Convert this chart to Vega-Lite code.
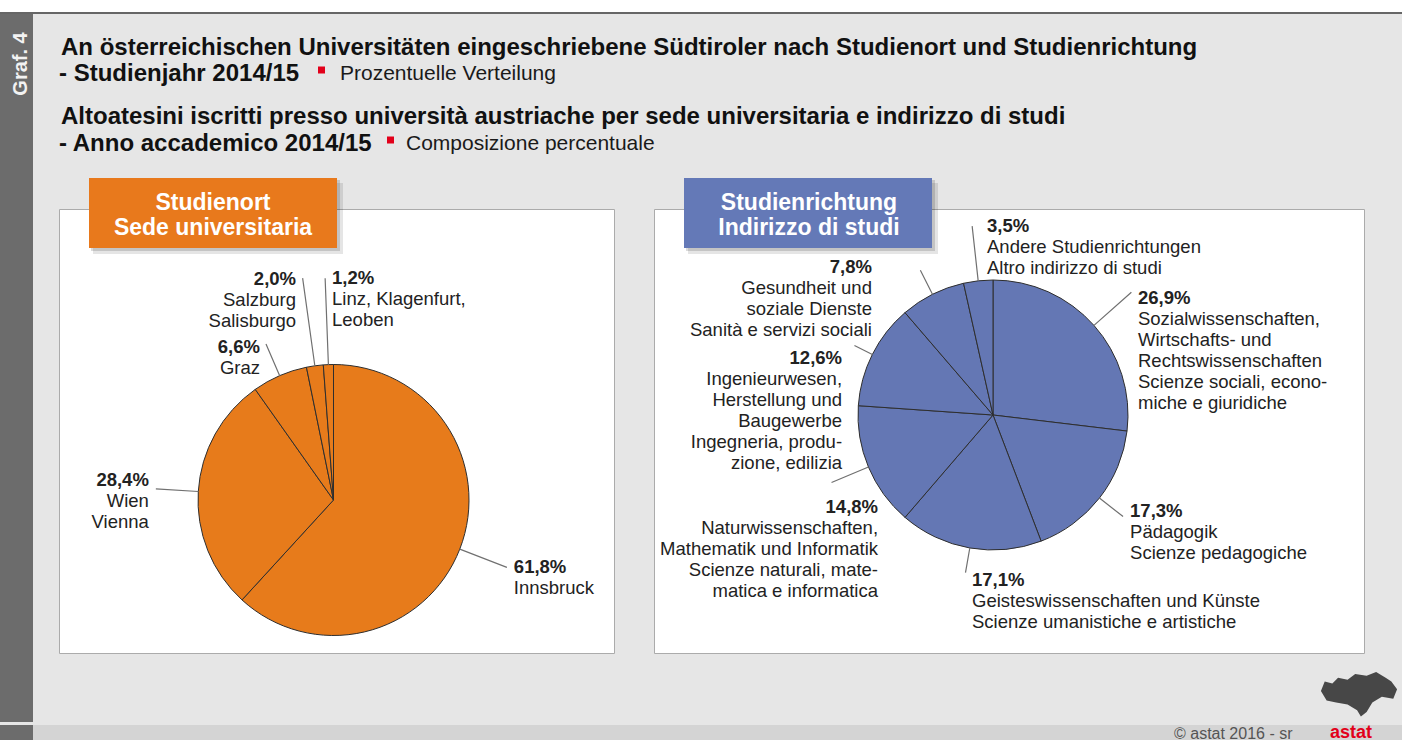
{
  "$schema": "https://vega.github.io/schema/vega-lite/v6.json",
  "background": "#e6e6e6",
  "padding": 0,
  "spacing": 0,
  "config": {
    "view": {"stroke": null},
    "font": "Liberation Sans",
    "locale": {"number": {"decimal": ",", "thousands": ".", "grouping": [3], "currency": ["", " €"]}},
    "text": {"font": "Liberation Sans", "fontSize": 18.5, "color": "#222222", "baseline": "alphabetic", "lineHeight": 21, "lineBreak": "\n"}
  },
  "vconcat": [
    {"width": 1402, "height": 12, "view": {"fill": "#ffffff", "stroke": null}, "data": {"values": [{}]}, "mark": {"type": "text", "text": "", "fontSize": 1, "x": 1, "y": 6, "baseline": "middle"}},
    {"width": 1402, "height": 2, "view": {"fill": "#666666", "stroke": null}, "data": {"values": [{}]}, "mark": {"type": "text", "text": "", "fontSize": 1, "x": 1, "y": 1, "baseline": "middle"}},
    {
      "hconcat": [
        {"width": 33, "height": 708, "view": {"fill": "#6c6c6c", "stroke": null}, "data": {"values": [{}]},
         "mark": {"type": "text", "text": "Graf. 4", "x": 20.5, "y": 50, "angle": 270, "align": "center", "baseline": "middle", "fontSize": 20, "fontWeight": "bold", "color": "#f2f2f2"}},
        {
          "vconcat": [
            {
              "width": 1344, "height": 163, "data": {"values": [{}]},
              "layer": [
                {"mark": {"type": "text", "x": 2, "y": 40.5, "align": "left", "fontSize": 24, "fontWeight": "bold", "color": "#111111", "text": "An österreichischen Universitäten eingeschriebene Südtiroler nach Studienort und Studienrichtung"}},
                {"mark": {"type": "text", "x": 0, "y": 66.5, "align": "left", "fontSize": 24, "fontWeight": "bold", "color": "#111111", "text": "- Studienjahr 2014/15"}},
                {"mark": {"type": "square", "x": 262.5, "y": 56, "size": 49, "color": "#e2001a", "opacity": 1}},
                {"mark": {"type": "text", "x": 281, "y": 65.5, "align": "left", "fontSize": 21, "color": "#1a1a1a", "text": "Prozentuelle Verteilung"}},
                {"mark": {"type": "text", "x": 2, "y": 109.5, "align": "left", "fontSize": 24, "fontWeight": "bold", "color": "#111111", "text": "Altoatesini iscritti presso università austriache per sede universitaria e indirizzo di studi"}},
                {"mark": {"type": "text", "x": 0, "y": 136.5, "align": "left", "fontSize": 24, "fontWeight": "bold", "color": "#111111", "text": "- Anno accademico 2014/15"}},
                {"mark": {"type": "square", "x": 331.5, "y": 126, "size": 49, "color": "#e2001a", "opacity": 1}},
                {"mark": {"type": "text", "x": 347, "y": 135.5, "align": "left", "fontSize": 21, "color": "#1a1a1a", "text": "Composizione percentuale"}}
              ]
            },
            {
              "hconcat": [
                {
                  "width": 555, "height": 444,
                  "view": {"fill": "#ffffff", "stroke": "#ababab", "strokeWidth": 1},
                  "layer": [
                    {"data": {"values": [{}]}, "layer": [
                      {"mark": {"type": "rect", "x": 34, "x2": 284, "y": -26, "y2": 45, "fill": "#000000", "opacity": 0.1}},
                      {"mark": {"type": "rect", "x": 32, "x2": 281, "y": -29, "y2": 42, "fill": "#000000", "opacity": 0.14}},
                      {"mark": {"type": "rect", "x": 30, "x2": 278, "y": -31, "y2": 39, "fill": "#e8791c"}},
                      {"mark": {"type": "text", "x": 154, "y": -6, "text": "Studienort\nSede universitaria", "align": "center", "baseline": "middle", "fontSize": 23, "fontWeight": "bold", "color": "#ffffff", "lineHeight": 25}}
                    ]},
                    {
                      "data": {"values": [
                        {"studienort": "Innsbruck", "name": "Innsbruck", "share": 0.618},
                        {"studienort": "Wien", "name": "Wien\nVienna", "share": 0.284},
                        {"studienort": "Graz", "name": "Graz", "share": 0.066},
                        {"studienort": "Salzburg", "name": "Salzburg\nSalisburgo", "share": 0.020},
                        {"studienort": "Linz", "name": "Linz, Klagenfurt,\nLeoben", "share": 0.012}
                      ]},
                      "transform": [
                        {"stack": "share", "groupby": [], "sort": [{"field": "share", "order": "descending"}], "as": ["s0", "s1"]},
                        {"fold": ["s0", "s1"], "as": ["edge", "ang"]},
                        {"aggregate": [{"op": "mean", "field": "ang", "as": "mid"}], "groupby": ["studienort", "name", "share", "s0", "s1"]}
                      ],
                      "encoding": {"x": {"value": 274.5}, "y": {"value": 291}},
                      "layer": [
                        {"mark": {"type": "arc", "radius": 135.5, "fill": "#e77b1b", "stroke": "#2e2e2e", "strokeWidth": 1},
                         "encoding": {"theta": {"field": "s0", "type": "quantitative", "scale": {"domain": [0, 1]}, "stack": null}, "theta2": {"field": "s1"}}},
                        {"transform": [{"filter": "datum.studienort === 'Innsbruck'"}],
                         "encoding": {"theta": {"field": "mid", "type": "quantitative", "scale": {"domain": [0, 1]}, "stack": null}},
                         "layer": [
                           {"mark": {"type": "arc", "radius": 186, "radius2": 135.5, "filled": false, "stroke": "#707070", "strokeWidth": 1.2}, "encoding": {"theta2": {"field": "mid"}}},
                           {"mark": {"type": "text", "radius": 186, "dx": 7, "dy": 6, "align": "left", "fontWeight": "bold"}, "encoding": {"text": {"field": "share", "type": "quantitative", "format": ".1%"}}},
                           {"mark": {"type": "text", "radius": 186, "dx": 7, "dy": 27, "align": "left"}, "encoding": {"text": {"field": "name", "type": "nominal"}}}
                         ]},
                        {"transform": [{"filter": "datum.studienort === 'Wien'"}],
                         "encoding": {"theta": {"field": "mid", "type": "quantitative", "scale": {"domain": [0, 1]}, "stack": null}},
                         "layer": [
                           {"mark": {"type": "arc", "radius": 178, "radius2": 135.5, "filled": false, "stroke": "#707070", "strokeWidth": 1.2}, "encoding": {"theta2": {"field": "mid"}}},
                           {"mark": {"type": "text", "radius": 178, "dx": -7, "dy": -3.3, "align": "right", "fontWeight": "bold"}, "encoding": {"text": {"field": "share", "type": "quantitative", "format": ".1%"}}},
                           {"mark": {"type": "text", "radius": 178, "dx": -7, "dy": 17.7, "align": "right"}, "encoding": {"text": {"field": "name", "type": "nominal"}}}
                         ]},
                        {"transform": [{"filter": "datum.studienort === 'Graz'"}],
                         "encoding": {"theta": {"field": "mid", "type": "quantitative", "scale": {"domain": [0, 1]}, "stack": null}},
                         "layer": [
                           {"mark": {"type": "arc", "radius": 170, "radius2": 135.5, "filled": false, "stroke": "#707070", "strokeWidth": 1.2}, "encoding": {"theta2": {"field": "mid"}}},
                           {"mark": {"type": "text", "radius": 170, "dx": -6, "dy": 9.5, "align": "right", "fontWeight": "bold"}, "encoding": {"text": {"field": "share", "type": "quantitative", "format": ".1%"}}},
                           {"mark": {"type": "text", "radius": 170, "dx": -6, "dy": 30.5, "align": "right"}, "encoding": {"text": {"field": "name", "type": "nominal"}}}
                         ]},
                        {"transform": [{"filter": "datum.studienort === 'Salzburg'"}],
                         "encoding": {"theta": {"field": "mid", "type": "quantitative", "scale": {"domain": [0, 1]}, "stack": null}},
                         "layer": [
                           {"mark": {"type": "arc", "radius": 224, "radius2": 135.5, "filled": false, "stroke": "#707070", "strokeWidth": 1.2}, "encoding": {"theta2": {"field": "mid"}}},
                           {"mark": {"type": "text", "radius": 224, "dx": -6.6, "dy": 6.4, "align": "right", "fontWeight": "bold"}, "encoding": {"text": {"field": "share", "type": "quantitative", "format": ".1%"}}},
                           {"mark": {"type": "text", "radius": 224, "dx": -6.6, "dy": 27.4, "align": "right"}, "encoding": {"text": {"field": "name", "type": "nominal"}}}
                         ]},
                        {"transform": [{"filter": "datum.studienort === 'Linz'"}],
                         "encoding": {"theta": {"field": "mid", "type": "quantitative", "scale": {"domain": [0, 1]}, "stack": null}},
                         "layer": [
                           {"mark": {"type": "arc", "radius": 222, "radius2": 135.5, "filled": false, "stroke": "#707070", "strokeWidth": 1.2}, "encoding": {"theta2": {"field": "mid"}}},
                           {"mark": {"type": "text", "radius": 222, "dx": 6.9, "dy": 6.3, "align": "left", "fontWeight": "bold"}, "encoding": {"text": {"field": "share", "type": "quantitative", "format": ".1%"}}},
                           {"mark": {"type": "text", "radius": 222, "dx": 6.9, "dy": 27.3, "align": "left"}, "encoding": {"text": {"field": "name", "type": "nominal"}}}
                         ]}
                      ]
                    }
                  ]
                },
                {
                  "width": 710, "height": 444,
                  "view": {"fill": "#ffffff", "stroke": "#ababab", "strokeWidth": 1},
                  "layer": [
                    {"data": {"values": [{}]}, "layer": [
                      {"mark": {"type": "rect", "x": 34, "x2": 284, "y": -26, "y2": 45, "fill": "#000000", "opacity": 0.1}},
                      {"mark": {"type": "rect", "x": 32, "x2": 281, "y": -29, "y2": 42, "fill": "#000000", "opacity": 0.14}},
                      {"mark": {"type": "rect", "x": 30, "x2": 278, "y": -31, "y2": 39, "fill": "#6479b7"}},
                      {"mark": {"type": "text", "x": 155, "y": -6, "text": "Studienrichtung\nIndirizzo di studi", "align": "center", "baseline": "middle", "fontSize": 23, "fontWeight": "bold", "color": "#ffffff", "lineHeight": 25}}
                    ]},
                    {
                      "data": {"values": [
                        {"richtung": "Sozial", "name": "Sozialwissenschaften,\nWirtschafts- und\nRechtswissenschaften\nScienze sociali, econo-\nmiche e giuridiche", "share": 0.269},
                        {"richtung": "Paedagogik", "name": "Pädagogik\nScienze pedagogiche", "share": 0.173},
                        {"richtung": "Geistes", "name": "Geisteswissenschaften und Künste\nScienze umanistiche e artistiche", "share": 0.171},
                        {"richtung": "Natur", "name": "Naturwissenschaften,\nMathematik und Informatik\nScienze naturali, mate-\nmatica e informatica", "share": 0.148},
                        {"richtung": "Ingenieur", "name": "Ingenieurwesen,\nHerstellung und\nBaugewerbe\nIngegneria, produ-\nzione, edilizia", "share": 0.126},
                        {"richtung": "Gesundheit", "name": "Gesundheit und\nsoziale Dienste\nSanità e servizi sociali", "share": 0.078},
                        {"richtung": "Andere", "name": "Andere Studienrichtungen\nAltro indirizzo di studi", "share": 0.035}
                      ]},
                      "transform": [
                        {"stack": "share", "groupby": [], "sort": [{"field": "share", "order": "descending"}], "as": ["s0", "s1"]},
                        {"fold": ["s0", "s1"], "as": ["edge", "ang"]},
                        {"aggregate": [{"op": "mean", "field": "ang", "as": "mid"}], "groupby": ["richtung", "name", "share", "s0", "s1"]}
                      ],
                      "encoding": {"x": {"value": 339}, "y": {"value": 206}},
                      "layer": [
                        {"mark": {"type": "arc", "radius": 135, "fill": "#6477b4", "stroke": "#2e2e2e", "strokeWidth": 1},
                         "encoding": {"theta": {"field": "s0", "type": "quantitative", "scale": {"domain": [0, 1]}, "stack": null}, "theta2": {"field": "s1"}}},
                        {"transform": [{"filter": "datum.richtung === 'Sozial'"}],
                         "encoding": {"theta": {"field": "mid", "type": "quantitative", "scale": {"domain": [0, 1]}, "stack": null}},
                         "layer": [
                           {"mark": {"type": "arc", "radius": 185, "radius2": 135, "filled": false, "stroke": "#707070", "strokeWidth": 1.2}, "encoding": {"theta2": {"field": "mid"}}},
                           {"mark": {"type": "text", "radius": 185, "dx": 6.6, "dy": 11.3, "align": "left", "fontWeight": "bold"}, "encoding": {"text": {"field": "share", "type": "quantitative", "format": ".1%"}}},
                           {"mark": {"type": "text", "radius": 185, "dx": 6.6, "dy": 32.3, "align": "left"}, "encoding": {"text": {"field": "name", "type": "nominal"}}}
                         ]},
                        {"transform": [{"filter": "datum.richtung === 'Paedagogik'"}],
                         "encoding": {"theta": {"field": "mid", "type": "quantitative", "scale": {"domain": [0, 1]}, "stack": null}},
                         "layer": [
                           {"mark": {"type": "arc", "radius": 165, "radius2": 135, "filled": false, "stroke": "#707070", "strokeWidth": 1.2}, "encoding": {"theta2": {"field": "mid"}}},
                           {"mark": {"type": "text", "radius": 165, "dx": 7, "dy": 0, "align": "left", "fontWeight": "bold"}, "encoding": {"text": {"field": "share", "type": "quantitative", "format": ".1%"}}},
                           {"mark": {"type": "text", "radius": 165, "dx": 7, "dy": 21, "align": "left"}, "encoding": {"text": {"field": "name", "type": "nominal"}}}
                         ]},
                        {"transform": [{"filter": "datum.richtung === 'Geistes'"}],
                         "encoding": {"theta": {"field": "mid", "type": "quantitative", "scale": {"domain": [0, 1]}, "stack": null}},
                         "layer": [
                           {"mark": {"type": "arc", "radius": 160, "radius2": 135, "filled": false, "stroke": "#707070", "strokeWidth": 1.2}, "encoding": {"theta2": {"field": "mid"}}},
                           {"mark": {"type": "text", "radius": 160, "dx": 6.5, "dy": 12.9, "align": "left", "fontWeight": "bold"}, "encoding": {"text": {"field": "share", "type": "quantitative", "format": ".1%"}}},
                           {"mark": {"type": "text", "radius": 160, "dx": 6.5, "dy": 33.9, "align": "left"}, "encoding": {"text": {"field": "name", "type": "nominal"}}}
                         ]},
                        {"transform": [{"filter": "datum.richtung === 'Natur'"}],
                         "encoding": {"theta": {"field": "mid", "type": "quantitative", "scale": {"domain": [0, 1]}, "stack": null}},
                         "layer": [
                           {"mark": {"type": "arc", "radius": 175, "radius2": 135, "filled": false, "stroke": "#707070", "strokeWidth": 1.2}, "encoding": {"theta2": {"field": "mid"}}},
                           {"mark": {"type": "text", "radius": 175, "dx": 46.5, "dy": 30.1, "align": "right", "fontWeight": "bold"}, "encoding": {"text": {"field": "share", "type": "quantitative", "format": ".1%"}}},
                           {"mark": {"type": "text", "radius": 175, "dx": 46.5, "dy": 51.1, "align": "right"}, "encoding": {"text": {"field": "name", "type": "nominal"}}}
                         ]},
                        {"transform": [{"filter": "datum.richtung === 'Ingenieur'"}],
                         "encoding": {"theta": {"field": "mid", "type": "quantitative", "scale": {"domain": [0, 1]}, "stack": null}},
                         "layer": [
                           {"mark": {"type": "arc", "radius": 155, "radius2": 135, "filled": false, "stroke": "#707070", "strokeWidth": 1.2}, "encoding": {"theta2": {"field": "mid"}}},
                           {"mark": {"type": "text", "radius": 155, "dx": -12.4, "dy": 18.1, "align": "right", "fontWeight": "bold"}, "encoding": {"text": {"field": "share", "type": "quantitative", "format": ".1%"}}},
                           {"mark": {"type": "text", "radius": 155, "dx": -12.4, "dy": 39.1, "align": "right"}, "encoding": {"text": {"field": "name", "type": "nominal"}}}
                         ]},
                        {"transform": [{"filter": "datum.richtung === 'Gesundheit'"}],
                         "encoding": {"theta": {"field": "mid", "type": "quantitative", "scale": {"domain": [0, 1]}, "stack": null}},
                         "layer": [
                           {"mark": {"type": "arc", "radius": 162, "radius2": 135, "filled": false, "stroke": "#707070", "strokeWidth": 1.2}, "encoding": {"theta2": {"field": "mid"}}},
                           {"mark": {"type": "text", "radius": 162, "dx": -48.4, "dy": 3.3, "align": "right", "fontWeight": "bold"}, "encoding": {"text": {"field": "share", "type": "quantitative", "format": ".1%"}}},
                           {"mark": {"type": "text", "radius": 162, "dx": -48.4, "dy": 24.3, "align": "right"}, "encoding": {"text": {"field": "name", "type": "nominal"}}}
                         ]},
                        {"transform": [{"filter": "datum.richtung === 'Andere'"}],
                         "encoding": {"theta": {"field": "mid", "type": "quantitative", "scale": {"domain": [0, 1]}, "stack": null}},
                         "layer": [
                           {"mark": {"type": "arc", "radius": 190, "radius2": 135, "filled": false, "stroke": "#707070", "strokeWidth": 1.2}, "encoding": {"theta2": {"field": "mid"}}},
                           {"mark": {"type": "text", "radius": 190, "dx": 14.85, "dy": 6.35, "align": "left", "fontWeight": "bold"}, "encoding": {"text": {"field": "share", "type": "quantitative", "format": ".1%"}}},
                           {"mark": {"type": "text", "radius": 190, "dx": 14.85, "dy": 27.35, "align": "left"}, "encoding": {"text": {"field": "name", "type": "nominal"}}}
                         ]}
                      ]
                    }
                  ]
                }
              ],
              "spacing": 38
            },
            {"width": 1344, "height": 70, "data": {"values": [{}]},
             "mark": {"type": "point", "x": 1300, "y": 39, "size": 5800, "filled": true, "color": "#2a2a2a", "opacity": 0.85,
                      "shape": "M-1,-0.05L-0.9,-0.3L-0.7,-0.25L-0.55,-0.4L-0.3,-0.35L-0.1,-0.5L0.2,-0.45L0.45,-0.55L0.7,-0.4L0.85,-0.3L1,-0.1L0.9,0.15L0.6,0.1L0.35,0.25L0.2,0.5L0.05,0.62L-0.05,0.45L-0.3,0.3L-0.6,0.25L-0.85,0.2Z"}}
          ],
          "spacing": 0
        }
      ],
      "spacing": 25
    },
    {
      "hconcat": [
        {"width": 33, "height": 18, "view": {"fill": "#6c6c6c", "stroke": null}, "data": {"values": [{}]}, "mark": {"type": "text", "text": "", "fontSize": 1, "x": 1, "y": 9, "baseline": "middle"}},
        {"width": 1369, "height": 18, "view": {"fill": "#d4d4d4", "stroke": null}, "data": {"values": [{}]},
         "layer": [
           {"mark": {"type": "text", "x": 1141, "y": 9, "align": "left", "baseline": "middle", "fontSize": 16, "color": "#555555", "text": "©  astat 2016 - sr"}},
           {"mark": {"type": "text", "x": 1297, "y": 8, "align": "left", "baseline": "middle", "fontSize": 18, "fontWeight": "bold", "color": "#e2001a", "text": "astat"}}
         ]}
      ],
      "spacing": 0
    }
  ]
}
